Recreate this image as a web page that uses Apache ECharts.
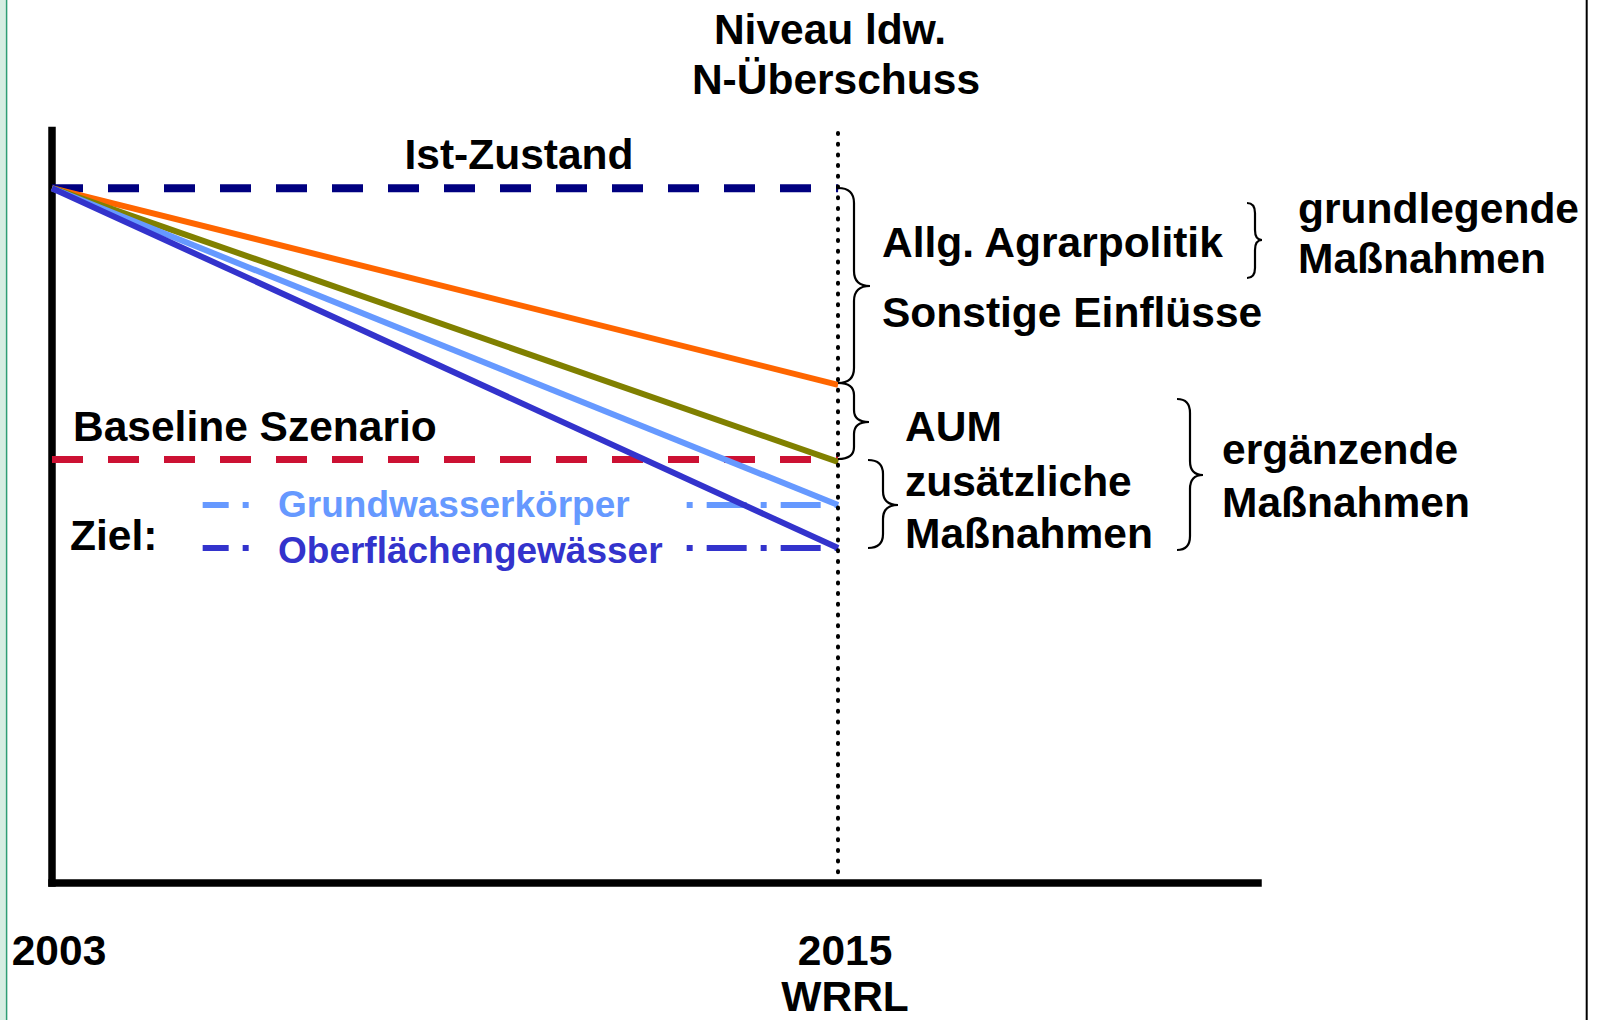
<!DOCTYPE html>
<html>
<head>
<meta charset="utf-8">
<script src="https://cdn.jsdelivr.net/npm/echarts@6.0.0/dist/echarts.min.js"></script>
<style>
  html, body { margin: 0; padding: 0; background: #fff; }
  #chart { width: 1602px; height: 1020px; }
</style>
</head>
<body>
<div id="chart"></div>
<script>
// Werte (Niveau N-Überschuss, Ist-Zustand = 100)
const years = [2003, 2015];
const istZustand = [100, 100];
const agrarpolitik = [100, 71.7];   // orange
const aum = [100, 60.6];            // oliv
const grundwasser = [100, 54.4];    // hellblau
const oberflaeche = [100, 48.2];    // blau
const baseline = [60.95, 60.95];
const zielYears = [2005.3, 2015];
const zielGrundwasser = [54.4, 54.4];
const zielOberflaeche = [48.2, 48.2];
const tickYears = [2003, 2015];
const tickLabels = ['2003', '2015\nWRRL'];

const FONT = 'Liberation Sans, Arial, sans-serif';

function pairs(xs, ys) {
  return xs.map((x, i) => [x, ys[i]]);
}

function lineSeries(name, xs, ys, color, width, type, extra) {
  return Object.assign({
    name: name,
    type: 'line',
    data: pairs(xs, ys),
    symbol: 'none',
    silent: true,
    lineStyle: { color: color, width: width, type: type, cap: 'butt' },
    emphasis: { disabled: true }
  }, extra || {});
}

// geschweifte Klammer "}" : Enden bei x0, Spitze bei xt
function brace(x0, y0, y1, xt, ym, xm, r) {
  const style = { stroke: '#000', lineWidth: 2.2, fill: null };
  const parts = [
    { type: 'bezierCurve', shape: { x1: x0, y1: y0, cpx1: xm, cpy1: y0, x2: xm, y2: y0 + r } },
    { type: 'line', shape: { x1: xm, y1: y0 + r, x2: xm, y2: ym - r } },
    { type: 'bezierCurve', shape: { x1: xm, y1: ym - r, cpx1: xm, cpy1: ym, x2: xt, y2: ym } },
    { type: 'bezierCurve', shape: { x1: xt, y1: ym, cpx1: xm, cpy1: ym, x2: xm, y2: ym + r } },
    { type: 'line', shape: { x1: xm, y1: ym + r, x2: xm, y2: y1 - r } },
    { type: 'bezierCurve', shape: { x1: xm, y1: y1 - r, cpx1: xm, cpy1: y1, x2: x0, y2: y1 } }
  ];
  return parts.map(p => Object.assign(p, { style: style, z: 100, silent: true }));
}

function label(text, x, y, align, color, size) {
  return {
    type: 'text', x: x, y: y, z: 110, silent: true,
    style: {
      text: text, fill: color || '#000',
      fontSize: size || 42.5, fontWeight: 'bold', fontFamily: FONT,
      align: align || 'left', verticalAlign: 'middle'
    }
  };
}

const chart = echarts.init(document.getElementById('chart'), null, { renderer: 'svg' });

const option = {
  backgroundColor: '#fff',
  animation: false,
  grid: { left: 52, right: 344, top: 130.5, bottom: 137, containLabel: false, outerBoundsMode: 'none' },
  xAxis: {
    type: 'value', min: 2003, max: 2021.41,
    axisLine: { show: true, onZero: true, lineStyle: { color: '#000', width: 7.5, cap: 'square' } },
    axisTick: { show: false },
    splitLine: { show: false },
    axisLabel: {
      customValues: tickYears,
      formatter: v => tickLabels[tickYears.indexOf(v)] || '',
      color: '#000', fontSize: 42.5, fontWeight: 'bold', fontFamily: FONT,
      lineHeight: 46, margin: 44, padding: [0, 0, 0, 14]
    }
  },
  yAxis: {
    type: 'value', min: 0, max: 108.3,
    axisLine: { show: true, lineStyle: { color: '#000', width: 7.5, cap: 'square' } },
    axisTick: { show: false },
    axisLabel: { show: false },
    splitLine: { show: false }
  },
  series: [
    lineSeries('Ist-Zustand', years, istZustand, '#000080', 8, [31, 25], {
      markLine: {
        silent: true, symbol: ['none', 'none'], label: { show: false },
        lineStyle: { color: '#000', width: 4, type: [1, 9.7], cap: 'round' },
        emphasis: { disabled: true },
        data: [{ xAxis: 2015 }]
      }
    }),
    lineSeries('Baseline Szenario', years, baseline, '#CC1133', 7, [31, 25]),
    lineSeries('Ziel Grundwasserkörper', zielYears, zielGrundwasser, '#6699FF', 6, [40, 14, 6, 14], {
      lineStyle: { color: '#6699FF', width: 6, type: [40, 14, 6, 14], dashOffset: 14 }
    }),
    lineSeries('Ziel Oberflächengewässer', zielYears, zielOberflaeche, '#3333CC', 6, [40, 14, 6, 14], {
      lineStyle: { color: '#3333CC', width: 6, type: [40, 14, 6, 14], dashOffset: 14 }
    }),
    lineSeries('Allg. Agrarpolitik', years, agrarpolitik, '#FF6600', 6, 'solid'),
    lineSeries('AUM', years, aum, '#808000', 6, 'solid'),
    lineSeries('Grundwasserkörper', years, grundwasser, '#6699FF', 6, 'solid'),
    lineSeries('Oberflächengewässer', years, oberflaeche, '#3333CC', 6, 'solid')
  ],
  graphic: {
    elements: [
      // Rahmen
      { type: 'rect', z: 90, silent: true, shape: { x: 0, y: 0, width: 6, height: 1020 }, style: { fill: '#d6eee2' } },
      { type: 'line', z: 91, silent: true, shape: { x1: 6.6, y1: 0, x2: 6.6, y2: 1020 }, style: { stroke: '#2e9e74', lineWidth: 1.5 } },
      { type: 'line', z: 91, silent: true, shape: { x1: 1586.7, y1: 0, x2: 1586.7, y2: 1020 }, style: { stroke: '#000', lineWidth: 2 } },
      // Hintergrund der Ziel-Beschriftungen
      { type: 'rect', z: 95, silent: true, shape: { x: 258, y: 493, width: 424, height: 24 }, style: { fill: '#fff' } },
      { type: 'rect', z: 95, silent: true, shape: { x: 258, y: 537, width: 424, height: 24 }, style: { fill: '#fff' } },

      label('Niveau ldw.', 830, 29, 'center'),
      label('N-Überschuss', 836, 79, 'center'),
      label('Ist-Zustand', 519, 154, 'center'),
      label('Baseline Szenario', 73, 426, 'left'),
      label('Ziel:', 70, 535, 'left'),
      label('Grundwasserkörper', 278, 504, 'left', '#6699FF', 37),
      label('Oberflächengewässer', 278, 550, 'left', '#3333CC', 37),
      label('Allg. Agrarpolitik', 882, 242, 'left'),
      label('Sonstige Einflüsse', 882, 312, 'left'),
      label('AUM', 905, 426, 'left'),
      label('zusätzliche', 905, 481, 'left'),
      label('Maßnahmen', 905, 533, 'left'),
      label('grundlegende', 1298, 208, 'left'),
      label('Maßnahmen', 1298, 258, 'left'),
      label('ergänzende', 1222, 449, 'left'),
      label('Maßnahmen', 1222, 502, 'left')
    ]
      .concat(brace(838, 188, 383, 870, 286, 854, 15))
      .concat(brace(838, 383, 459, 869, 422, 854, 12))
      .concat(brace(868, 460, 548, 898, 505, 883, 14))
      .concat(brace(1247, 203, 278, 1262, 240, 1255, 10))
      .concat(brace(1177, 399, 550, 1203, 475, 1190, 14))
  }
};

chart.setOption(option);
</script>
</body>
</html>
